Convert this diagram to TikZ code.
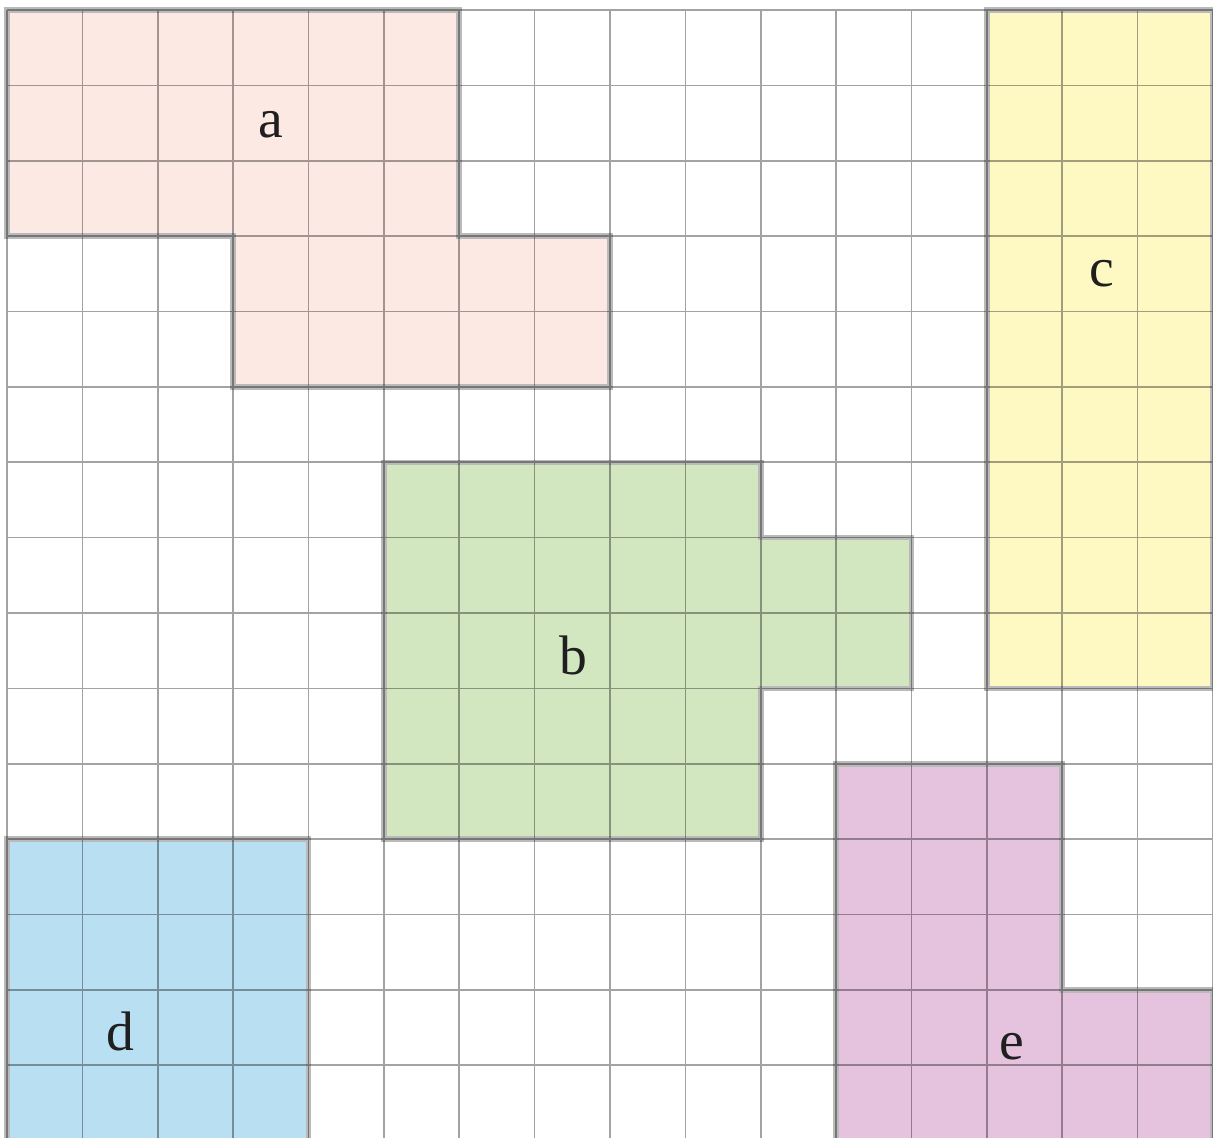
\documentclass[tikz,border=0pt]{standalone}
\usepackage{fontspec}
\setmainfont{Liberation Serif}
\definecolor{apink}{HTML}{FDE9E3}
\definecolor{cyel}{HTML}{FEF8C2}
\definecolor{bgreen}{HTML}{D2E6C0}
\definecolor{dblue}{HTML}{B8DFF2}
\definecolor{epurple}{HTML}{E5C3DF}
\begin{document}
\begin{tikzpicture}[x=1cm,y=-1cm,
  region/.style={draw=black!27, line width=2.1pt, line join=miter},
  gridline/.style={draw=black, opacity=0.36, line width=0.6pt},
  lbl/.style={font=\fontsize{21}{25}\selectfont, text=black!88, inner sep=0pt}]
\useasboundingbox (-0.093,-0.133) rectangle (16,14.952);
\fill[white] (-0.093,-0.133) rectangle (16,14.952);
\clip (-0.093,-0.133) rectangle (16,14.952);
% regions
\path[region, fill=apink] (0,0) -- (6,0) -- (6,3) -- (8,3) -- (8,5) -- (3,5) -- (3,3) -- (0,3) -- cycle;
\path[region, fill=cyel] (13,0) -- (16,0) -- (16,9) -- (13,9) -- cycle;
\path[region, fill=bgreen] (5,6) -- (10,6) -- (10,7) -- (12,7) -- (12,9) -- (10,9) -- (10,11) -- (5,11) -- cycle;
\path[region, fill=dblue] (0,11) -- (4,11) -- (4,15.5) -- (0,15.5) -- cycle;
\path[region, fill=epurple] (11,10) -- (14,10) -- (14,13) -- (16,13) -- (16,15.5) -- (11,15.5) -- cycle;
% grid
\draw[gridline] (0,0) grid (16,15.5);
% labels
\node[lbl] (la) at (3.5,1.52) {a};
\node[lbl] (lb) at (7.52,8.56) {b};
\node[lbl] (lc) at (14.52,3.5) {c};
\node[lbl] (ld) at (1.5,13.55) {d};
\node[lbl] (le) at (13.33,13.75) {e};
\end{tikzpicture}
\end{document}
